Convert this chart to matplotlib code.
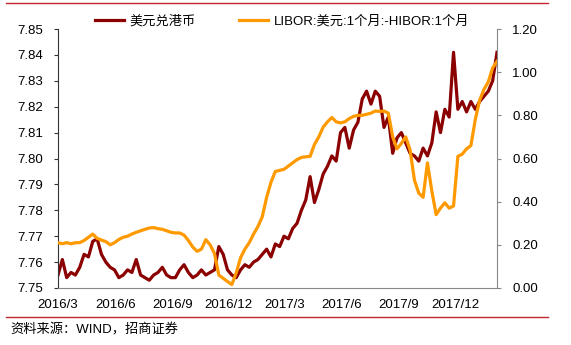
import matplotlib.pyplot as plt
import pandas as pd
from matplotlib.lines import Line2D

plt.rcParams['font.family'] = ['Liberation Sans', 'Noto Sans CJK SC']

# weekly readings, starting 2016-03-01
usdhkd = [7.755, 7.761, 7.754, 7.756, 7.755, 7.758, 7.763, 7.762, 7.768, 7.769,
          7.763, 7.760, 7.758, 7.757, 7.754, 7.755, 7.757, 7.756, 7.761, 7.755,
          7.754, 7.753, 7.755, 7.756, 7.758, 7.755, 7.754, 7.754, 7.757, 7.759,
          7.756, 7.754, 7.755, 7.757, 7.755, 7.756, 7.757, 7.766, 7.763, 7.757,
          7.755, 7.754, 7.757, 7.759, 7.758, 7.760, 7.761, 7.763, 7.765, 7.762,
          7.767, 7.766, 7.770, 7.769, 7.773, 7.775, 7.780, 7.784, 7.793, 7.783,
          7.788, 7.794, 7.797, 7.801, 7.799, 7.810, 7.812, 7.804, 7.811, 7.814,
          7.823, 7.826, 7.821, 7.826, 7.824, 7.812, 7.816, 7.802, 7.808, 7.810,
          7.806, 7.802, 7.801, 7.799, 7.804, 7.801, 7.806, 7.818, 7.810, 7.819,
          7.816, 7.841, 7.819, 7.822, 7.818, 7.822, 7.819, 7.822, 7.824, 7.826,
          7.830, 7.841]

libor_hibor = [0.21, 0.205, 0.21, 0.205, 0.21, 0.21, 0.22, 0.235, 0.25, 0.23,
               0.222, 0.215, 0.20, 0.21, 0.225, 0.235, 0.24, 0.25, 0.258, 0.265,
               0.272, 0.278, 0.28, 0.275, 0.272, 0.265, 0.258, 0.255, 0.255, 0.245,
               0.22, 0.19, 0.17, 0.18, 0.224, 0.20, 0.16, 0.06, 0.045, 0.03,
               0.016, 0.07, 0.14, 0.18, 0.21, 0.25, 0.285, 0.33, 0.42, 0.49,
               0.54, 0.545, 0.55, 0.565, 0.58, 0.595, 0.605, 0.608, 0.61, 0.665,
               0.70, 0.745, 0.77, 0.79, 0.77, 0.765, 0.77, 0.785, 0.795, 0.80,
               0.80, 0.805, 0.81, 0.82, 0.818, 0.82, 0.81, 0.70, 0.645, 0.67,
               0.70, 0.64, 0.50, 0.44, 0.42, 0.58, 0.45, 0.34, 0.37, 0.395,
               0.37, 0.38, 0.61, 0.62, 0.645, 0.66, 0.78, 0.87, 0.92, 0.955,
               1.02, 1.05]

tick_dates = ['2016-03-01', '2016-06-01', '2016-09-01', '2016-12-01',
              '2017-03-01', '2017-06-01', '2017-09-01', '2017-12-01']
tick_labels = ['2016/3', '2016/6', '2016/9', '2016/12',
               '2017/3', '2017/6', '2017/9', '2017/12']

dates = pd.date_range('2016-03-01', periods=len(usdhkd), freq='7D')

fig = plt.figure(figsize=(5.71, 3.45), dpi=100)
ax = fig.add_axes([58/571, 57/345, 439/571, 259/345])
ax2 = ax.twinx()

l1, = ax.plot(dates, usdhkd, color='#8B0000', lw=2.3)
l2, = ax2.plot(dates, libor_hibor, color='#FF9900', lw=2.3)

ax.set_xlim(dates[0], dates[-1])
ax.set_ylim(7.75, 7.85)
ax2.set_ylim(0, 1.2)
ax.set_yticks([7.75, 7.76, 7.77, 7.78, 7.79, 7.80, 7.81, 7.82, 7.83, 7.84, 7.85])
ax.set_yticklabels(['%.2f' % v for v in ax.get_yticks()])
ax2.set_yticks([0, 0.2, 0.4, 0.6, 0.8, 1.0, 1.2])
ax2.set_yticklabels(['%.2f' % v for v in ax2.get_yticks()])
ax.set_xticks(pd.to_datetime(tick_dates))
ax.set_xticklabels(tick_labels)

for a in (ax, ax2):
    a.spines['top'].set_visible(False)
ax.spines['right'].set_visible(False)
ax2.spines['left'].set_visible(False)
ax2.spines['bottom'].set_visible(False)
ax.spines['left'].set_color('#333333')
ax.spines['bottom'].set_color('#888888')
ax2.spines['right'].set_color('#888888')

ax.tick_params(axis='x', length=0, pad=8, labelsize=9.5)
ax.tick_params(axis='y', length=3, pad=8, labelsize=9.5, color='#333333')
ax2.tick_params(axis='y', length=3, pad=8, labelsize=9.5, color='#888888')

fig.legend([l1, l2], ['美元兑港币', 'LIBOR:美元:1个月:-HIBOR:1个月'],
           loc='center', bbox_to_anchor=(0.494, 1 - 21/345), ncol=2,
           frameon=False, fontsize=9.5, handlelength=2.2, handletextpad=0.4,
           columnspacing=3.3)

fig.add_artist(Line2D([0.01, 0.96], [1 - 3/345] * 2, transform=fig.transFigure,
                      color='#C0282D', lw=1))
fig.add_artist(Line2D([0.01, 0.96], [1 - 317/345] * 2, transform=fig.transFigure,
                      color='#C0282D', lw=1))
fig.text(10/571, 1 - 330/345, '资料来源：WIND，招商证券', fontsize=9.5, va='center')

fig.savefig('out.png', dpi=100)
